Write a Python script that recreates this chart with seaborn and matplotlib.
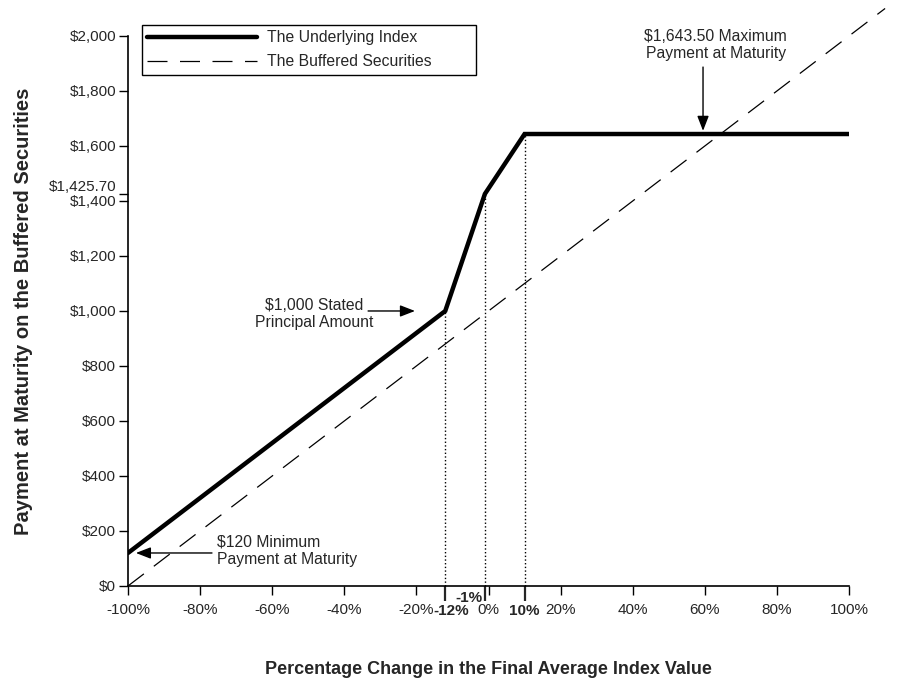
import seaborn as sns
import matplotlib.pyplot as plt
import matplotlib.transforms as mtrans
import pandas as pd

# 支払い額のデータ
index_pct = [-100, -12, -1, 10, 100]
index_pay = [120, 1000, 1425.70, 1643.50, 1643.50]
buffer_pct = [-100, 110]
buffer_pay = [0, 2100]

y_ticks = [0, 200, 400, 600, 800, 1000, 1200, 1400, 1425.70, 1600, 1800, 2000]
y_labels = ["$0", "$200", "$400", "$600", "$800", "$1,000", "$1,200", "$1,400",
            "$1,425.70", "$1,600", "$1,800", "$2,000"]
x_ticks = [-100, -80, -60, -40, -20, 0, 20, 40, 60, 80, 100]
x_labels = ["-100%", "-80%", "-60%", "-40%", "-20%", "0%", "20%", "40%", "60%", "80%", "100%"]
key_pct = [-12, -1, 10]
key_labels = ["-12%", "-1%", "10%"]

sns.set_style("white")
plt.rcParams['font.family'] = ['Liberation Sans', 'DejaVu Sans']

index_df = pd.DataFrame({"pct": index_pct, "pay": index_pay})
buffer_df = pd.DataFrame({"pct": buffer_pct, "pay": buffer_pay})

fig = plt.figure(figsize=(9.07, 6.84), dpi=100)
ax = fig.add_axes([0.1411, 0.1433, 0.795, 0.8041])

sns.lineplot(data=index_df, x="pct", y="pay", ax=ax, color="black", lw=3.2,
             label="The Underlying Index", sort=False, solid_joinstyle="miter")
sns.lineplot(data=buffer_df, x="pct", y="pay", ax=ax, color="black", lw=0.9,
             label="The Buffered Securities", clip_on=False)
ax.lines[1].set_dashes((16, 10))

# 節目の点線
for p, v in zip(index_pct[1:4], index_pay[1:4]):
    ax.plot([p, p], [0, v], color="black", lw=1, ls=":")

ax.set_xlim(-100, 100)
ax.set_ylim(0, 2000)
ax.set_xticks(x_ticks, x_labels)
ax.set_yticks(y_ticks, y_labels)
ax.set_xticks(key_pct, key_labels, minor=True)
for lab in ax.get_xticklabels(minor=True):
    lab.set_fontweight("bold")

ax.tick_params(axis="both", which="major", direction="out", length=6.5, width=1,
               labelsize=11, color="black", left=True, bottom=True)
ax.tick_params(axis="x", which="major", pad=6)
ax.tick_params(axis="y", which="major", pad=2)
ax.tick_params(axis="x", which="minor", direction="out", length=11, width=1.6,
               labelsize=11, pad=2, bottom=True)

# ラベルの重なりを避ける
dpi = fig.dpi
ylabs = ax.get_yticklabels()
ylabs[8].set_transform(ylabs[8].get_transform() + mtrans.ScaledTranslation(0, 8 / dpi, fig.dpi_scale_trans))
mlabs = ax.get_xticklabels(minor=True)
mlabs[0].set_transform(mlabs[0].get_transform() + mtrans.ScaledTranslation(6 / dpi, 0, fig.dpi_scale_trans))
mlabs[1].set_transform(mlabs[1].get_transform() + mtrans.ScaledTranslation(-16 / dpi, 13 / dpi, fig.dpi_scale_trans))

for side in ["top", "right"]:
    ax.spines[side].set_visible(False)
for side in ["left", "bottom"]:
    ax.spines[side].set_linewidth(1.2)
    ax.spines[side].set_color("black")

ax.set_xlabel("Percentage Change in the Final Average Index Value", fontsize=13,
              fontweight="bold", labelpad=31)
ax.set_ylabel("Payment at Maturity on the Buffered Securities", fontsize=14.5,
              fontweight="bold", labelpad=11)

# 注釈
arrow = dict(arrowstyle="-|>,head_length=0.9,head_width=0.35", color="black", lw=1,
             shrinkA=0, shrinkB=0)
ax.annotate("", xy=(59.5, 1655), xytext=(59.5, 1887), arrowprops=arrow)
ax.text(63, 1967, "$1,643.50 Maximum\nPayment at Maturity", ha="center", va="center",
        fontsize=11.3, linespacing=1.2)
ax.annotate("", xy=(-20.4, 1000), xytext=(-33.4, 1000), arrowprops=arrow)
ax.text(-48.4, 989, "$1,000 Stated\nPrincipal Amount", ha="center", va="center",
        fontsize=11.3, linespacing=1.2)
ax.annotate("", xy=(-97.8, 120), xytext=(-76.7, 120), arrowprops=arrow)
ax.text(-75.3, 127, "$120 Minimum\nPayment at Maturity", ha="left", va="center",
        fontsize=11.3, linespacing=1.2)

leg = ax.legend(loc="upper left", bbox_to_anchor=(142 / 907, 1 - 73 / 684, 334 / 907, 48 / 684),
                bbox_transform=fig.transFigure, mode="expand", borderaxespad=0,
                fontsize=11.3, handlelength=7, handletextpad=0.6, labelspacing=0.55,
                fancybox=False, framealpha=1, edgecolor="black", borderpad=0.35)
leg.get_frame().set_linewidth(1)
leg.get_lines()[1].set_dashes((16, 10))

fig.savefig("out.png", dpi=100)
